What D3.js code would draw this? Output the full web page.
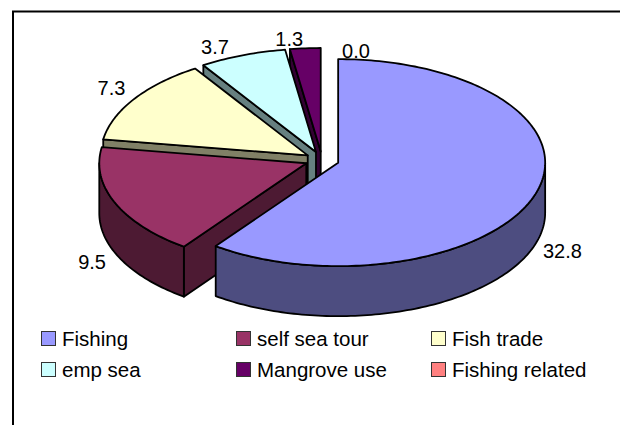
<!DOCTYPE html>
<html><head><meta charset="utf-8">
<script src="https://cdn.jsdelivr.net/npm/d3@7"></script>
<style>html,body{margin:0;padding:0;background:#fff}svg{display:block}text{font-family:"Liberation Sans",Arial,sans-serif;fill:#000}</style>
</head><body><svg id="c" width="620" height="425"></svg>
<script>
const categories = ["Fishing","self sea tour","Fish trade","emp sea","Mangrove use","Fishing related"];
const values = [32.8,9.5,7.3,3.7,1.3,0.0];
const labels = ["32.8","9.5","7.3","3.7","1.3","0.0"];
const topColors = ["#9999FF","#993366","#FFFFCC","#CCFFFF","#660066","#FF8080"];
const sideColors = ["#4D4D80","#4D1A33","#808066","#668080","#330033","#804040"];

const W=620,H=425, cx=322, cy=160, rx=207, tilt=0.5, depth=50, explode=17, lw=1.8;
const svg=d3.select("#c");
svg.append("rect").attr("width",W).attr("height",H).attr("fill","#fff");
svg.append("path").attr("d",`M13,${H}V11.5H${W}`).attr("fill","none").attr("stroke","#000").attr("stroke-width",2);

const arcs=d3.pie().sort(null).value(d=>d)(values).map((a,i)=>({...a,i}));
const R=d3.scaleLinear().domain([0,1]).range([0,rx]);
const pt=(a,r,o)=>[o[0]+R(r)*Math.sin(a), o[1]-R(r)*tilt*Math.cos(a)];
const line=d3.line();
const arcPts=(a0,a1,o)=>{const n=Math.max(2,Math.ceil((a1-a0)/0.02));return d3.range(n+1).map(k=>pt(a0+(a1-a0)*k/n,1,o));};
const down=p=>[p[0],p[1]+depth];
const origin=a=>{const m=(a.startAngle+a.endAngle)/2;return [cx+explode*Math.sin(m), cy-explode*tilt*Math.cos(m)];};
const shape=(g,pts,fill)=>g.append("path").attr("d",line(pts)+"Z").attr("fill",fill).attr("stroke","#000").attr("stroke-width",lw).attr("stroke-linejoin","round");

// back to front: later slices sit behind, Fishing is last
const g=svg.append("g");
arcs.slice().reverse().forEach(a=>{
  if(a.endAngle-a.startAngle<=0) return;
  const o=origin(a);
  if(a.startAngle>Math.PI){
    const s=pt(a.startAngle,1,o);
    shape(g,[o,s,down(s),down(o)],sideColors[a.i]);
  }
  const w0=Math.max(a.startAngle,Math.PI/2), w1=Math.min(a.endAngle,Math.PI*1.5);
  if(w1>w0){
    const p=arcPts(w0,w1,o);
    shape(g,p.concat(p.map(down).reverse()),sideColors[a.i]);
  }
  shape(g,[o].concat(arcPts(a.startAngle,a.endAngle,o)),topColors[a.i]);
});

// data labels: radial position, with the small shifts a crowded top needs
const labelShift=[[2,2],[2,4],[0,-4],[-18,4],[-14,4],[34,16]];
arcs.forEach(a=>{
  const o=origin(a), m=(a.startAngle+a.endAngle)/2, p=pt(m,1.13,o);
  const front=Math.cos(m)<0;
  svg.append("text").attr("x",p[0]+labelShift[a.i][0]).attr("y",p[1]+(front?depth:0)+labelShift[a.i][1]+7)
    .attr("text-anchor","middle").attr("font-size",20).text(labels[a.i]);
});

// legend
const colX=d3.scaleBand().domain([0,1,2]).range([41,626]);
const rowY=d3.scaleBand().domain([0,1]).range([331,393]);
categories.forEach((c,i)=>{
  const x=colX(i%3), y=rowY(Math.floor(i/3));
  svg.append("rect").attr("x",x+.5).attr("y",y+.5).attr("width",14).attr("height",14)
    .attr("fill",topColors[i]).attr("stroke","#333").attr("stroke-width",1);
  svg.append("text").attr("x",x+21).attr("y",y+14.5).attr("font-size",20.5).text(c);
});
</script></body></html>
